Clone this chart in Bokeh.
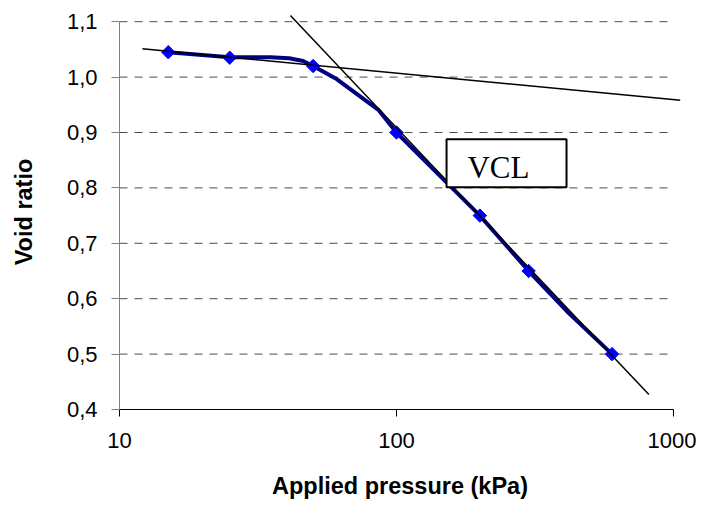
from bokeh.plotting import figure
from bokeh.models import FixedTicker, BoxAnnotation, Label
from bokeh.embed import file_html
from bokeh.resources import INLINE

# --- data ---
pressure = [15, 25, 50, 100, 200, 300, 600]
void_ratio = [1.045, 1.035, 1.02, 0.90, 0.75, 0.65, 0.50]

curve_pressure = [15, 25, 35, 41, 46, 50, 61, 86, 100, 200, 300, 413, 600]
curve_void = [1.045, 1.036, 1.036, 1.034, 1.029, 1.02, 0.996, 0.941, 0.90, 0.75, 0.65, 0.577, 0.50]

recomp_p = [12.1, 1059]
recomp_e = [1.051, 0.958]
vcl_p = [41.4, 815]
vcl_e = [1.111, 0.427]

x_ticks = [10, 100, 1000]
x_tick_labels = ["10", "100", "1000"]
y_ticks = [0.4, 0.5, 0.6, 0.7, 0.8, 0.9, 1.0, 1.1]
y_tick_labels = ["0,4", "0,5", "0,6", "0,7", "0,8", "0,9", "1,0", "1,1"]

x_min, x_max = 10, 1000
y_min, y_max = 0.4, 1.1

# VCL label box (annotation placement)
box_left, box_right, box_bottom, box_top = 151.6, 411, 0.801, 0.888
label_x, label_y = 180.4, 0.8374

p = figure(x_axis_type="log", x_range=(10, 1060), y_range=(0.4, 1.113),
           frame_width=561, frame_height=395,
           min_border_left=119, min_border_top=14, min_border_right=16, min_border_bottom=86,
           output_backend="svg", toolbar_location=None)
p.outline_line_color = None
p.xgrid.visible = False
p.ygrid.visible = False

# dashed horizontal gridlines
grid_vals = y_ticks[1:]
p.segment(x0=[x_min] * len(grid_vals), x1=[x_max] * len(grid_vals),
          y0=grid_vals, y1=grid_vals, line_color="#4d4d4d", line_width=1,
          line_dash="8 7")

# navy curve
p.line(curve_pressure, curve_void, line_color="#000080", line_width=4, line_join="round")
# markers
p.scatter(pressure, void_ratio, marker="square", size=9.5, angle=0.785398,
          fill_color="#0000FF", line_color="#0000FF")
# black construction lines
p.line(recomp_p, recomp_e, line_color="black", line_width=1.5)
p.line(vcl_p, vcl_e, line_color="black", line_width=1.5)

# VCL box
box = BoxAnnotation(left=box_left, right=box_right, bottom=box_bottom, top=box_top,
                    fill_color="white", fill_alpha=1.0, line_color="black", line_width=2,
                    line_alpha=1.0)
p.add_layout(box)
lbl = Label(x=label_x, y=label_y, text="VCL", text_font="Liberation Serif",
            text_font_size="31px", text_baseline="middle", text_align="left",
            text_color="black")
p.add_layout(lbl)

# axes
xa = p.xaxis[0]
xa.ticker = FixedTicker(ticks=x_ticks)
xa.major_label_overrides = {t: l for t, l in zip(x_ticks, x_tick_labels)}
xa.bounds = (x_min, x_max)
xa.minor_tick_line_color = None
xa.major_tick_out = 7
xa.major_tick_in = 0
xa.axis_line_color = "black"
xa.major_tick_line_color = "black"
xa.major_label_text_font = "Liberation Sans"
xa.major_label_text_font_size = "22px"
xa.major_label_text_color = "black"
xa.major_label_standoff = 16
xa.axis_label = "Applied pressure (kPa)"
xa.axis_label_text_font = "Liberation Sans"
xa.axis_label_text_font_style = "bold"
xa.axis_label_text_font_size = "23.5px"
xa.axis_label_text_color = "black"
xa.axis_label_standoff = 22

ya = p.yaxis[0]
ya.ticker = FixedTicker(ticks=y_ticks)
ya.major_label_overrides = {t: l for t, l in zip(y_ticks, y_tick_labels)}
ya.bounds = (y_min, y_max)
ya.minor_tick_line_color = None
ya.major_tick_out = 8
ya.major_tick_in = 0
ya.axis_line_color = "#808080"
ya.major_tick_line_color = "#808080"
ya.major_label_text_font = "Liberation Sans"
ya.major_label_text_font_size = "22px"
ya.major_label_text_color = "black"
ya.major_label_standoff = 14
ya.axis_label = "Void ratio"
ya.axis_label_text_font = "Liberation Sans"
ya.axis_label_text_font_style = "bold"
ya.axis_label_text_font_size = "23.5px"
ya.axis_label_text_color = "black"
ya.axis_label_standoff = 27

open("out.html", "w").write(file_html(p, INLINE))
